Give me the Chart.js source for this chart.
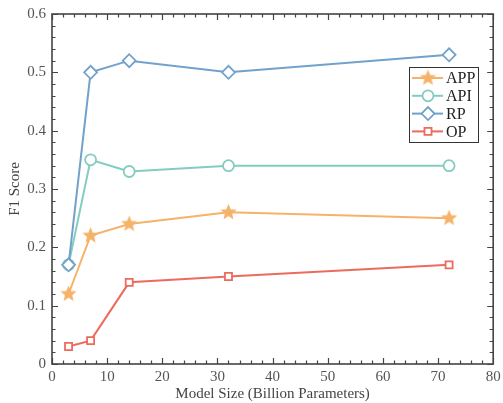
<!DOCTYPE html>
<html>
<head>
<meta charset="utf-8">
<script src="https://cdn.jsdelivr.net/npm/chart.js@4/dist/chart.umd.min.js"></script>
<style>
  html, body { margin: 0; padding: 0; background: #fff; }
  #wrap { width: 503px; height: 403px; }
</style>
</head>
<body>
<div id="wrap"><canvas id="chart" width="503" height="403"></canvas></div>
<script>
// model sizes (billions of parameters)
const modelSizes = [3, 7, 14, 32, 72];

const appScores = [0.12, 0.22, 0.24, 0.26, 0.25];
const apiScores = [0.17, 0.35, 0.33, 0.34, 0.34];
const rpScores  = [0.17, 0.50, 0.52, 0.50, 0.53];
const opScores  = [0.03, 0.04, 0.14, 0.15, 0.17];

const seriesNames = ['APP', 'API', 'RP', 'OP'];
const xTicks = [0, 10, 20, 30, 40, 50, 60, 70, 80];
const yTicks = [0, 0.1, 0.2, 0.3, 0.4, 0.5, 0.6];

const FONT = "'Liberation Serif', 'DejaVu Serif', serif";
const AXIS = '#444';

// filled star marker
function makeStar(color, r) {
    const c = document.createElement('canvas');
    const s = Math.ceil(r * 2 + 2);
    c.width = s; c.height = s;
    const g = c.getContext('2d');
    g.beginPath();
    for (let i = 0; i < 10; i++) {
        const rad = i % 2 === 0 ? r : r * 0.45;
        const a = -Math.PI / 2 + i * Math.PI / 5;
        const px = s / 2 + rad * Math.cos(a);
        const py = s / 2 + rad * Math.sin(a);
        if (i === 0) g.moveTo(px, py); else g.lineTo(px, py);
    }
    g.closePath();
    g.fillStyle = color;
    g.fill();
    return c;
}

const colors = { APP: '#f5b36a', API: '#82cdc0', RP: '#72a2cb', OP: '#ec6b5d' };
const starImg = makeStar(colors.APP, 8.5);

function toPts(vals) {
    return vals.map((v, i) => ({ x: modelSizes[i], y: v }));
}

const datasets = [
    { label: seriesNames[0], data: toPts(appScores), borderColor: colors.APP, pointStyle: starImg,
      pointRadius: 8, order: 3 },
    { label: seriesNames[1], data: toPts(apiScores), borderColor: colors.API, pointStyle: 'circle',
      pointRadius: 5.5, order: 2 },
    { label: seriesNames[2], data: toPts(rpScores), borderColor: colors.RP, pointStyle: 'rectRot',
      pointRadius: 6.5, order: 0 },
    { label: seriesNames[3], data: toPts(opScores), borderColor: colors.OP, pointStyle: 'rect',
      pointRadius: 5, order: 1 }
].map(d => Object.assign(d, {
    borderWidth: 2,
    pointBorderColor: d.borderColor,
    pointBackgroundColor: '#fff',
    pointBorderWidth: 1.8,
    pointHoverRadius: d.pointRadius,
    tension: 0
}));

// inward ticks on all four sides + box frame
const frameTicks = {
    id: 'frameTicks',
    afterDraw(chart) {
        const ctx = chart.ctx;
        const { left, right, top, bottom } = chart.chartArea;
        const x = chart.scales.x, y = chart.scales.y;
        ctx.save();
        ctx.strokeStyle = AXIS;
        ctx.lineWidth = 1.2;
        ctx.beginPath();
        for (let v = 0; v <= 80; v += 2) {
            const px = Math.round(x.getPixelForValue(v)) + 0.5;
            const len = v % 10 === 0 ? 6 : 3.5;
            ctx.moveTo(px, bottom); ctx.lineTo(px, bottom - len);
            ctx.moveTo(px, top); ctx.lineTo(px, top + len);
        }
        for (let k = 0; k <= 30; k++) {
            const py = Math.round(y.getPixelForValue(k * 0.02)) + 0.5;
            const len = k % 5 === 0 ? 6 : 3.5;
            ctx.moveTo(left, py); ctx.lineTo(left + len, py);
            ctx.moveTo(right, py); ctx.lineTo(right - len, py);
        }
        ctx.stroke();
        ctx.lineWidth = 1.6;
        ctx.strokeRect(left, top, right - left, bottom - top);
        ctx.restore();
    }
};

// legend box with line + marker
const boxLegend = {
    id: 'boxLegend',
    afterDraw(chart) {
        const ctx = chart.ctx;
        const bx = 409, by = 67, bw = 69, bh = 75;
        ctx.save();
        ctx.fillStyle = '#fff';
        ctx.fillRect(bx, by, bw, bh);
        ctx.strokeStyle = '#333';
        ctx.lineWidth = 1;
        ctx.strokeRect(bx + 0.5, by + 0.5, bw, bh);
        chart.data.datasets.forEach((ds, i) => {
            const cy = by + 11 + i * 17.8;
            ctx.strokeStyle = ds.borderColor;
            ctx.lineWidth = 2;
            ctx.beginPath();
            ctx.moveTo(bx + 3, cy); ctx.lineTo(bx + 34, cy);
            ctx.stroke();
            ctx.fillStyle = '#fff';
            ctx.lineWidth = 1.8;
            Chart.helpers.drawPoint(ctx, {
                pointStyle: ds.pointStyle,
                radius: ds.pointRadius,
                borderWidth: 1.8,
                rotation: 0
            }, bx + 19, cy);
            ctx.fillStyle = '#222';
            ctx.font = '16px ' + FONT;
            ctx.textBaseline = 'middle';
            ctx.textAlign = 'left';
            ctx.fillText(ds.label, bx + 37, cy + 1);
        });
        ctx.restore();
    }
};

new Chart(document.getElementById('chart'), {
    type: 'line',
    data: { datasets: datasets },
    options: {
        responsive: false,
        animation: false,
        events: [],
        layout: { padding: { top: 14, right: 5, left: 0, bottom: 0 } },
        plugins: {
            legend: { display: false },
            tooltip: { enabled: false }
        },
        scales: {
            x: {
                type: 'linear',
                min: 0, max: 80,
                afterBuildTicks: s => { s.ticks = xTicks.map(v => ({ value: v })); },
                grid: { display: false, drawTicks: false },
                border: { display: false },
                ticks: {
                    color: '#555',
                    font: { family: FONT, size: 15 },
                    padding: 4,
                    maxRotation: 0,
                    autoSkip: false
                },
                title: {
                    display: true,
                    text: 'Model Size (Billion Parameters)',
                    color: '#444',
                    font: { family: FONT, size: 15 },
                    padding: { top: 0, bottom: 0 }
                },
                afterFit: s => { s.height = 39; s.paddingLeft = 0; s.paddingRight = 0; }
            },
            y: {
                min: 0, max: 0.6,
                afterBuildTicks: s => { s.ticks = yTicks.map(v => ({ value: v })); },
                grid: { display: false, drawTicks: false },
                border: { display: false },
                ticks: {
                    color: '#555',
                    font: { family: FONT, size: 15 },
                    padding: 6,
                    callback: v => (v === 0 ? '0' : v.toFixed(1))
                },
                title: {
                    display: true,
                    text: 'F1 Score',
                    color: '#444',
                    font: { family: FONT, size: 15 },
                    padding: { top: 6, bottom: 0 }
                },
                afterFit: s => { s.width = 52; s.paddingTop = 0; s.paddingBottom = 0; }
            }
        }
    },
    plugins: [frameTicks, boxLegend]
});
</script>
</body>
</html>
